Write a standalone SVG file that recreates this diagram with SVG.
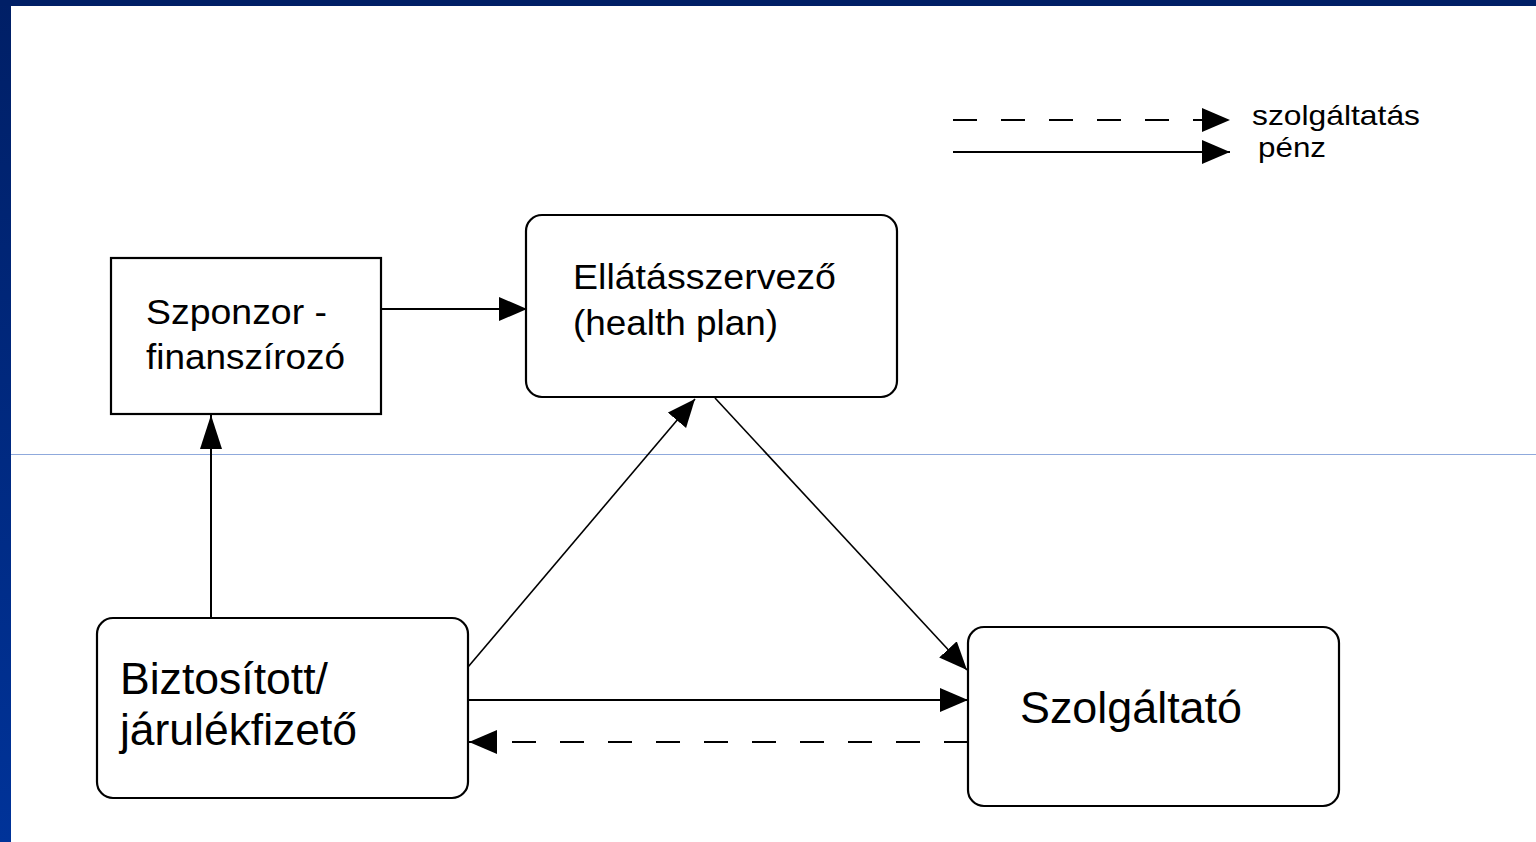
<svg xmlns="http://www.w3.org/2000/svg" width="1536" height="842" viewBox="0 0 1536 842">
<style>
.box{fill:#fff;stroke:#000;stroke-width:2.2}
.t{font-family:"Liberation Sans",Arial,sans-serif;fill:#000}
.ln{stroke:#000;stroke-width:2;fill:none}
.thin{stroke:#000;stroke-width:1.6;fill:none}
.dash{stroke:#000;stroke-width:2;fill:none;stroke-dasharray:24 24}
</style>
<defs>
<linearGradient id="band" x1="0" y1="0" x2="0" y2="1">
<stop offset="0" stop-color="#001f66"/>
<stop offset="1" stop-color="#003399"/>
</linearGradient>
<marker id="arrow" markerUnits="userSpaceOnUse" markerWidth="30" markerHeight="26" refX="28" refY="12" orient="auto">
<path d="M0,0 L28,12 L0,24 z" fill="#000"/>
</marker>
<marker id="arrowL" markerUnits="userSpaceOnUse" markerWidth="36" markerHeight="24" refX="34" refY="11" orient="auto">
<path d="M0,0 L34,11 L0,22 z" fill="#000"/>
</marker>
</defs>
<rect x="0" y="0" width="1536" height="842" fill="#fff"/>
<rect x="0" y="0" width="11" height="842" fill="url(#band)"/>
<rect x="0" y="0" width="1536" height="6" fill="#001f66"/>
<line x1="11" y1="454.5" x2="1536" y2="454.5" stroke="#8fa9dc" stroke-width="1"/>

<g id="legend">
<line class="dash" x1="953" y1="120" x2="1230" y2="120" stroke-dasharray="15 25 24 25 24 25 24 25 24 25 24 25" marker-end="url(#arrow)"/>
<line class="ln" x1="953" y1="152" x2="1230" y2="152" marker-end="url(#arrow)"/>
<text class="t" x="1252" y="125" font-size="28" textLength="168" lengthAdjust="spacingAndGlyphs">szolgáltatás</text>
<text class="t" x="1258" y="157" font-size="28" textLength="68" lengthAdjust="spacingAndGlyphs">pénz</text>
</g>

<g id="connectors">
<line class="ln" x1="381" y1="309" x2="527" y2="309" marker-end="url(#arrow)"/>
<line class="ln" x1="211" y1="618" x2="211" y2="415" marker-end="url(#arrowL)"/>
<line class="thin" x1="468" y1="667" x2="695" y2="399" marker-end="url(#arrow)"/>
<line class="thin" x1="715" y1="398" x2="967" y2="670" marker-end="url(#arrow)"/>
<line class="ln" x1="469" y1="700" x2="968" y2="700" marker-end="url(#arrow)"/>
<line class="dash" x1="968" y1="742" x2="469" y2="742" stroke-dasharray="10 23 24 23" marker-end="url(#arrow)"/>
</g>

<g id="sponsor">
<rect class="box" x="111" y="258" width="270" height="156" stroke-width="2.8"/>
<text class="t" x="146" y="324" font-size="35" textLength="181" lengthAdjust="spacingAndGlyphs">Szponzor -</text>
<text class="t" x="146" y="369" font-size="35" textLength="199" lengthAdjust="spacingAndGlyphs">finanszírozó</text>
</g>

<g id="ellatasszervezo">
<rect class="box" x="526" y="215" width="371" height="182" rx="16" ry="16"/>
<text class="t" x="573" y="289" font-size="35" textLength="263" lengthAdjust="spacingAndGlyphs">Ellátásszervező</text>
<text class="t" x="573" y="335" font-size="35" textLength="205" lengthAdjust="spacingAndGlyphs">(health plan)</text>
</g>

<g id="biztositott">
<rect class="box" x="97" y="618" width="371" height="180" rx="16" ry="16"/>
<text class="t" x="120" y="694" font-size="44" textLength="208" lengthAdjust="spacingAndGlyphs">Biztosított/</text>
<text class="t" x="120" y="745" font-size="44" textLength="237" lengthAdjust="spacingAndGlyphs">járulékfizető</text>
</g>

<g id="szolgaltato">
<rect class="box" x="968" y="627" width="371" height="179" rx="16" ry="16"/>
<text class="t" x="1020" y="723" font-size="44" textLength="222" lengthAdjust="spacingAndGlyphs">Szolgáltató</text>
</g>
</svg>
